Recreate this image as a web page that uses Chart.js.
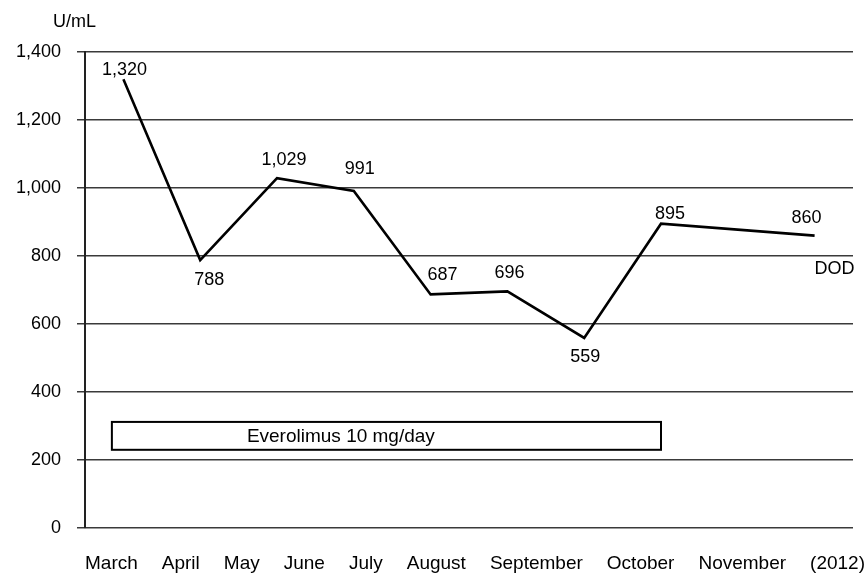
<!DOCTYPE html>
<html>
<head>
<meta charset="utf-8">
<script src="https://cdn.jsdelivr.net/npm/chart.js@4"></script>
<style>
  html, body { margin: 0; padding: 0; background: #fff; }
  #wrap { width: 868px; height: 574px; }
</style>
</head>
<body>
<div id="wrap"><canvas id="c" width="868" height="574"></canvas></div>
<script>
// ---- data ----
const months = ['March', 'April', 'May', 'June', 'July', 'August', 'September', 'October', 'November', '(2012)'];
const values = [1320, 788, 1029, 991, 687, 696, 559, 895, null, 860];
const yMin = 0;
const yMax = 1400;
const yStep = 200;
const unitLabel = 'U/mL';
const endLabel = 'DOD';
const treatmentLabel = 'Everolimus 10 mg/day';
const treatmentStart = -0.15;   // category index
const treatmentEnd = 7.0;       // category index
const treatmentLow = 230;       // U/mL
const treatmentHigh = 312;      // U/mL

// ---- styling / placement (not data) ----
const FONT = '"Liberation Sans", Arial, Helvetica, sans-serif';
const labelOffsets = [[1, -9], [9, 20], [7, -18], [6, -22], [12, -19], [2, -18], [1, 19], [9, -10], null, [-8, -18]];
const endLabelOffset = [20, 33];

const overlay = {
  id: 'overlay',
  afterDatasetsDraw(chart) {
    const ctx = chart.ctx;
    const xs = chart.scales.x, ys = chart.scales.y;
    const area = chart.chartArea;
    ctx.save();
    ctx.fillStyle = '#000';

    // unit label
    ctx.font = '18px ' + FONT;
    ctx.textAlign = 'left';
    ctx.textBaseline = 'middle';
    ctx.fillText(unitLabel, 53, 22);

    // value labels
    ctx.textAlign = 'center';
    values.forEach((v, i) => {
      if (v === null) return;
      const off = labelOffsets[i] || [0, -16];
      const px = xs.getPixelForValue(i), py = ys.getPixelForValue(v);
      ctx.fillText(v.toLocaleString('en-US'), px + off[0], py + off[1]);
    });

    // DOD label at last point
    let last = values.length - 1;
    while (values[last] === null) last--;
    ctx.fillText(endLabel, xs.getPixelForValue(last) + endLabelOffset[0], ys.getPixelForValue(values[last]) + endLabelOffset[1]);

    // treatment box
    const bx1 = xs.getPixelForValue(treatmentStart), bx2 = xs.getPixelForValue(treatmentEnd);
    const by1 = ys.getPixelForValue(treatmentHigh), by2 = ys.getPixelForValue(treatmentLow);
    ctx.fillStyle = '#fff';
    ctx.fillRect(bx1, by1, bx2 - bx1, by2 - by1);
    ctx.strokeStyle = '#000';
    ctx.lineWidth = 2;
    ctx.strokeRect(bx1, by1, bx2 - bx1, by2 - by1);
    ctx.fillStyle = '#000';
    ctx.font = '19px ' + FONT;
    ctx.textAlign = 'left';
    ctx.textBaseline = 'middle';
    ctx.fillText(treatmentLabel, bx1 + 135, (by1 + by2) / 2 + 1);

    // month label row under the axis
    ctx.textBaseline = 'alphabetic';
    const widths = months.map(m => ctx.measureText(m).width);
    const total = widths.reduce((a, b) => a + b, 0);
    const gap = (780 - total) / (months.length - 1);
    let x = area.left;
    months.forEach((m, i) => {
      ctx.fillText(m, x, 569);
      x += widths[i] + gap;
    });
    ctx.restore();
  }
};

new Chart(document.getElementById('c'), {
  type: 'line',
  data: {
    labels: months,
    datasets: [{
      data: values,
      borderColor: '#000',
      borderWidth: 2.6,
      pointRadius: 0,
      tension: 0,
      spanGaps: true,
      fill: false
    }]
  },
  options: {
    responsive: false,
    animation: false,
    layout: { padding: { top: 52, right: 15, left: 0, bottom: 0 } },
    plugins: { legend: { display: false }, tooltip: { enabled: false } },
    scales: {
      x: {
        type: 'category',
        offset: true,
        grid: { display: false },
        border: { display: false },
        ticks: { display: false },
        afterFit(scale) { scale.height = 46; }
      },
      y: {
        min: yMin,
        max: yMax,
        ticks: {
          stepSize: yStep,
          color: '#000',
          padding: 16,
          font: { family: FONT, size: 18 },
          callback: v => v.toLocaleString('en-US')
        },
        grid: { color: '#3a3a3a', lineWidth: 1.5, tickLength: 8, drawTicks: true },
        border: { display: true, color: '#222', width: 2 },
        afterFit(scale) { scale.width = 85; }
      }
    }
  },
  plugins: [overlay]
});
</script>
</body>
</html>
